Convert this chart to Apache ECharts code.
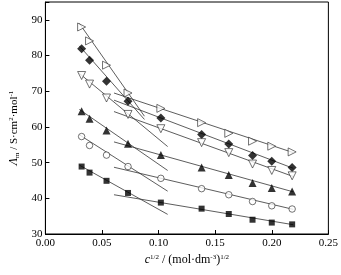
<!DOCTYPE html>
<html><head><meta charset="utf-8">
<script src="https://cdn.jsdelivr.net/npm/echarts@6/dist/echarts.min.js"></script>
<style>html,body{margin:0;padding:0;background:#fff}#c{width:341px;height:275px}</style>
</head><body><div id="c"></div>
<script>
// concentration^(1/2)
const xVals = [0.032, 0.039, 0.054, 0.073, 0.102, 0.138, 0.162, 0.183, 0.200, 0.218];
// series values (Λm)
const rightTri = [88.0, 84.1, 77.3, 69.5, 65.2, 61.2, 58.2, 56.0, 54.6, 53.0];
const diamond  = [81.9, 78.7, 72.8, 67.2, 62.5, 57.9, 55.2, 52.0, 50.4, 48.6];
const downTri  = [74.4, 72.0, 68.1, 63.5, 59.5, 55.6, 52.8, 49.6, 47.8, 46.3];
const upTri    = [64.4, 62.3, 59.0, 55.3, 52.1, 48.6, 46.5, 44.3, 42.9, 41.9];
const circle   = [57.3, 54.8, 52.1, 48.9, 45.6, 42.7, 41.0, 39.1, 37.9, 37.0];
const square   = [48.9, 47.2, 44.9, 41.5, 38.8, 37.1, 35.6, 34.0, 33.2, 32.7];
// fitted line end points: [x1, y1, x2, y2]
const steepLines = [
  [0.030, 89.0, 0.0875, 63.0],
  [0.030, 82.7, 0.0875, 62.1],
  [0.030, 75.0, 0.108, 54.5],
  [0.030, 64.9, 0.108, 47.8],
  [0.030, 57.8, 0.108, 42.0],
  [0.030, 49.3, 0.108, 35.5]
];
const shallowLines = [
  [0.0606, 69.5, 0.219, 52.8],
  [0.0606, 67.5, 0.219, 48.4],
  [0.0606, 64.3, 0.219, 46.1],
  [0.0606, 55.8, 0.219, 41.8],
  [0.0606, 48.7, 0.219, 36.9],
  [0.0606, 41.0, 0.219, 32.6]
];
const xTicks = ['0.00','0.05','0.10','0.15','0.20','0.25'];

const FONT = '"Liberation Serif", "DejaVu Serif", serif';
const pts = arr => xVals.map((x, i) => [x, arr[i]]);
const lineS = l => ({type:'line', data:[[l[0],l[1]],[l[2],l[3]]], symbol:'none', silent:true,
  lineStyle:{color:'#333', width:0.8}, z:1, animation:false});
const markerDefs = [
  {data:rightTri, symbol:'triangle', rotate:-90, size:8, open:true},
  {data:diamond, symbol:'diamond', rotate:0, size:9, open:false},
  {data:downTri, symbol:'triangle', rotate:180, size:8, open:true},
  {data:upTri, symbol:'triangle', rotate:0, size:8, open:false},
  {data:circle, symbol:'circle', rotate:0, size:6.5, open:true},
  {data:square, symbol:'rect', rotate:0, size:6, open:false}
];
const series = [];
steepLines.forEach(l => series.push(lineS(l)));
shallowLines.forEach(l => series.push(lineS(l)));
markerDefs.forEach(m => series.push({
  type:'scatter', data:pts(m.data), symbol:m.symbol, symbolRotate:m.rotate, symbolSize:m.size,
  itemStyle: m.open ? {color:'#fff', borderColor:'#222', borderWidth:0.8} : {color:'#000', borderWidth:0},
  z:3, animation:false
}));

const chart = echarts.init(document.getElementById('c'), null, {renderer:'canvas'});
chart.setOption({
  animation:false,
  backgroundColor:'#fff',
  grid:{left:40, right:10, top:2, bottom:41, show:true, borderColor:'#000', borderWidth:1, backgroundColor:'transparent'},
  xAxis:{
    type:'value', min:0, max:0.25, interval:0.05,
    axisLine:{lineStyle:{color:'#000', width:1}},
    axisTick:{inside:true, length:4, lineStyle:{color:'#000'}},
    splitLine:{show:false},
    axisLabel:{color:'#000', fontFamily:FONT, fontSize:11, margin:4,
      formatter: (v) => xTicks[Math.round(v/0.05)]},
    name:'{i|c}{sup|1/2} / (mol·dm{sup|-3}){sup|1/2}',
    nameLocation:'middle', nameGap:16,
    nameTextStyle:{color:'#000', fontFamily:FONT, fontSize:12,
      rich:{
        i:{fontStyle:'italic', fontFamily:FONT, fontSize:12, color:'#000'},
        sup:{fontSize:7, fontFamily:FONT, verticalAlign:'top', color:'#000', padding:[0,0,5,0]}
      }}
  },
  yAxis:{
    type:'value', min:30, max:95, interval:10,
    axisLine:{lineStyle:{color:'#000', width:1}},
    axisTick:{inside:true, length:4, lineStyle:{color:'#000'}},
    splitLine:{show:false},
    axisLabel:{color:'#000', fontFamily:FONT, fontSize:11, margin:3,
      formatter:(v)=> v>90 ? '' : String(v)},
    name:'{i|Λ}{sub|m} / S·cm{sup|2}·mol{sup|-1}',
    nameLocation:'middle', nameGap:21,
    nameTextStyle:{color:'#000', fontFamily:FONT, fontSize:11, padding:[0,20,0,0],
      rich:{
        i:{fontStyle:'italic', fontFamily:FONT, fontSize:12, color:'#000'},
        sub:{fontSize:7, fontFamily:FONT, color:'#000', padding:[6,0,0,0]},
        sup:{fontSize:7, fontFamily:FONT, color:'#000', padding:[0,0,5,0]}
      }}
  },
  series: series
});
</script></body></html>
